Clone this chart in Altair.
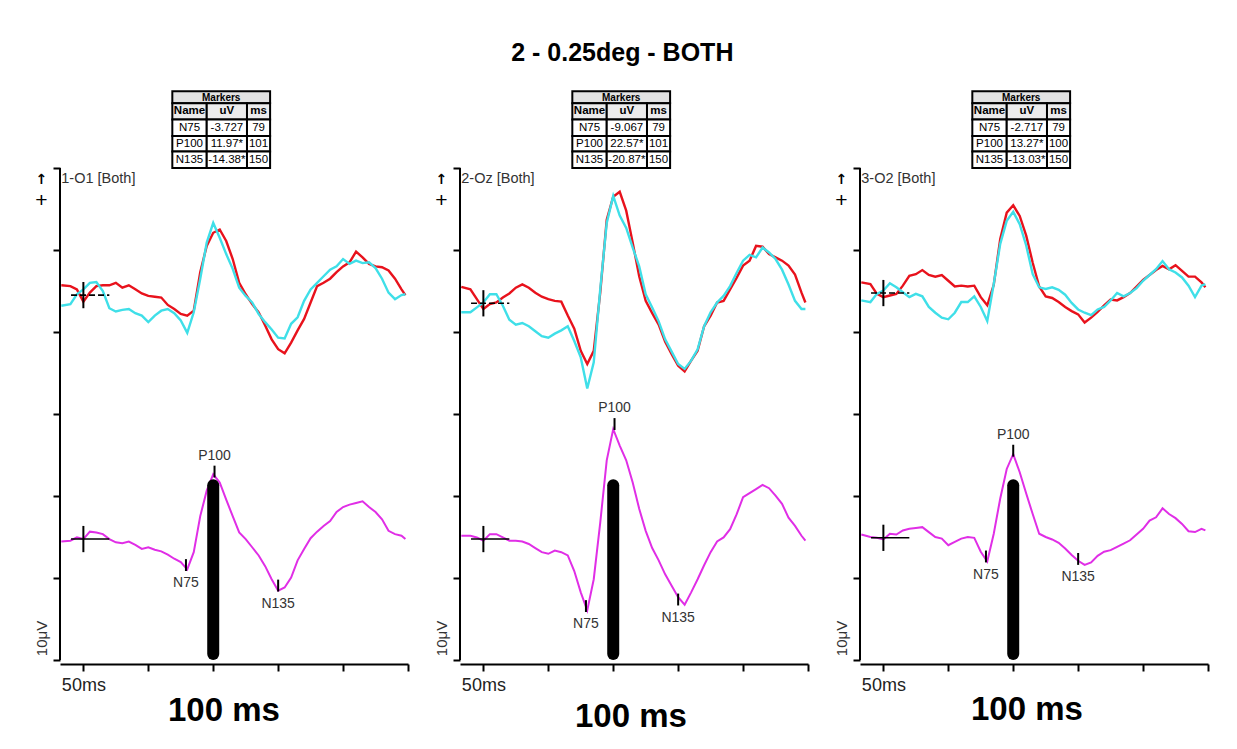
import altair as alt
import pandas as pd

# ---------------- content ----------------
TITLE = "2 - 0.25deg - BOTH"
PANEL_LABELS = ["1-O1 [Both]", "2-Oz [Both]", "3-O2 [Both]"]

T_MS = [-17, -10, -5, 0, 5, 10, 15, 20, 25, 30, 35, 40, 45, 50, 55, 60, 65, 70, 75, 80,
        85, 90, 95, 100, 105, 110, 115, 120, 125, 130, 135, 140, 145, 150, 155, 160, 165,
        170, 175, 180, 185, 190, 195, 200, 205, 210, 215, 220, 225, 230, 235, 240, 245, 248]

# traces in microvolts relative to each trace's own baseline
RED = [
    [1.2, 1.1, 0.7, -0.8, 0.3, 1.1, 1.2, 1.2, 1.5, 0.9, 1.2, 0.7, 0.2, -0.1, -0.2, -0.3, -1.2, -1.7, -2.3, -2.5,
     -1.9, 2.8, 6.0, 7.6, 8.0, 6.6, 4.4, 1.5, 0.1, -1.1, -2.1, -3.7, -5.4, -6.6, -7.1, -5.8, -4.3,
     -2.9, -0.9, 1.1, 1.5, 2.0, 2.8, 3.5, 4.0, 5.3, 4.6, 3.8, 3.5, 3.4, 3.0, 2.0, 0.7, 0.0],
    [2.0, 1.7, 0.5, -0.7, -0.1, 0.1, 0.7, 1.2, 1.9, 2.3, 1.9, 1.3, 0.8, 0.5, 0.3, 0.2, -1.5, -3.1, -5.8, -7.4,
     -5.8, 1.3, 10.2, 13.0, 13.6, 11.3, 7.4, 3.3, 0.3, -1.2, -2.6, -4.7, -6.2, -7.6, -8.3, -7.0, -5.8,
     -2.8, -1.5, 0.1, 0.3, 1.7, 3.1, 4.6, 5.2, 7.0, 6.9, 6.0, 5.6, 5.2, 4.6, 3.5, 1.3, 0.1],
    [1.3, 1.1, -0.1, -0.5, -0.3, -0.1, 0.9, 2.1, 2.3, 2.8, 2.2, 2.0, 2.2, 1.5, 0.8, 0.9, 0.8, 0.9, -0.5, -1.5,
     1.0, 6.6, 9.8, 10.7, 9.4, 7.0, 3.7, 0.8, -0.4, -0.6, -1.1, -1.7, -2.2, -2.6, -3.6, -3.0, -2.3,
     -1.5, -0.8, -0.9, -0.5, 0.0, 0.8, 1.6, 2.2, 2.8, 3.3, 2.9, 3.4, 2.7, 2.0, 2.0, 1.3, 0.7],
]
CYAN = [
    [-1.3, -1.1, 0.1, 0.7, 1.5, 1.6, 0.5, -1.6, -2.0, -1.8, -1.7, -2.2, -2.5, -3.3, -2.5, -1.9, -1.7, -2.2, -3.1, -4.6,
     -2.1, 2.0, 6.4, 8.8, 7.0, 5.0, 3.2, 0.9, -0.1, -0.9, -2.3, -3.3, -4.2, -5.2, -5.3, -3.5, -2.7,
     -0.7, 0.7, 1.5, 2.3, 3.1, 3.5, 4.4, 3.8, 4.2, 3.9, 4.0, 3.3, 2.0, 0.3, -0.5, 0.0, 0.1],
    [-1.1, -1.1, -0.5, 0.1, 1.1, 1.1, -0.3, -2.0, -2.6, -2.4, -2.8, -3.4, -4.0, -4.2, -3.7, -3.3, -2.8, -4.6, -6.6, -10.4,
     -7.2, 1.7, 9.8, 13.1, 10.7, 9.2, 6.8, 4.5, 1.1, -0.5, -2.2, -4.4, -5.9, -7.4, -8.0, -7.0, -5.6,
     -2.8, -1.1, 0.1, 0.9, 2.1, 3.7, 5.2, 5.9, 5.6, 6.8, 6.2, 5.4, 4.1, 2.3, 0.3, -0.7, -0.7],
    [-0.9, -1.1, -0.1, 0.3, 1.2, 0.7, 0.1, -0.5, -0.1, -0.4, -1.7, -2.4, -3.0, -3.2, -2.4, -1.1, -1.1, -0.4, -1.7, -3.4,
     1.1, 6.0, 8.8, 9.9, 8.4, 5.8, 2.3, 0.7, 0.5, 0.7, 0.4, -0.2, -1.2, -2.0, -2.4, -2.7, -2.0,
     -1.7, -0.9, 0.0, -0.4, 0.0, 0.6, 1.5, 2.2, 2.9, 3.9, 2.9, 2.5, 1.9, 0.9, -0.5, 0.9, 1.1],
]
MAGENTA = [
    [-0.3, -0.2, 0.2, 0.0, 0.9, 0.8, 0.6, 0.0, -0.4, -0.5, -0.3, -0.7, -1.2, -1.0, -1.3, -1.5, -1.9, -2.4, -2.8, -3.7,
     -1.6, 2.8, 5.9, 7.9, 6.9, 4.8, 2.8, 0.8, 0.0, -1.0, -2.0, -3.3, -4.9, -6.3, -5.9, -4.7, -2.6,
     -1.2, 0.1, 0.9, 1.6, 2.2, 3.3, 3.9, 4.2, 4.4, 4.6, 3.9, 3.3, 2.4, 1.0, 0.6, 0.4, 0.0],
    [0.4, 0.4, 0.2, -0.2, 0.6, 0.6, 0.2, -0.2, -0.2, -0.3, -0.6, -1.1, -1.6, -1.8, -1.4, -1.6, -2.0, -3.9, -6.5, -8.7,
     -4.9, 2.0, 9.6, 13.4, 11.4, 9.6, 6.9, 3.7, 1.0, -1.1, -2.6, -4.3, -5.7, -7.1, -8.0, -6.5, -4.9,
     -3.2, -1.6, -0.3, 0.2, 1.2, 3.0, 5.1, 5.6, 6.1, 6.6, 6.2, 5.3, 4.3, 2.6, 1.6, 0.4, -0.2],
    [0.4, 0.1, 0.0, -0.2, 0.5, 0.4, 0.9, 1.1, 1.2, 1.3, 0.7, 0.1, -0.1, -0.9, -0.5, -0.1, 0.1, 0.0, -1.7, -2.9,
     0.5, 4.8, 8.4, 10.2, 8.0, 5.4, 2.9, 0.5, 0.1, -0.2, -0.6, -1.3, -2.1, -2.8, -3.3, -3.0, -2.2,
     -1.7, -1.5, -1.1, -0.7, -0.3, 0.4, 1.1, 2.1, 2.5, 3.6, 2.9, 2.4, 1.7, 0.8, 0.7, 1.1, 0.9],
]

MARKER_NAMES = ["N75", "P100", "N135"]
MARKER_UV = [["-3.727", "11.97*", "-14.38*"],
             ["-9.067", "22.57*", "-20.87*"],
             ["-2.717", "13.27*", "-13.03*"]]
MARKER_MS = [[79, 101, 150], [79, 101, 150], [79, 100, 150]]
MARKER_LEVEL = [[-3.8, 7.6, -6.3], [-8.8, 13.4, -8.0], [-2.9, 10.0, -3.2]]
TABLE_HEAD = ["Name", "uV", "ms"]

X_TICKS = [0, 50, 100, 150, 200, 250]
Y_TICKS = [0, 10, 20, 30, 40, 50, 60]
X_SCALE_LABEL = "50ms"
Y_SCALE_LABEL = "10μV"
TIME_LABEL = "100 ms"
TIME_BAR_MS = 100

# ---------------- layout / style ----------------
FONT = "Liberation Sans"
C_RED, C_CYAN, C_MAG = "#e8121c", "#3fdfe8", "#e02ee6"
TOP_BASE = [44.5, 43.5, 44.75]
BOT_BASE = [14.75, 14.75, 14.9]
X_DOMAIN = [-18, 250]
Y_DOMAIN = [0, 70]
TAB_X = [68.5, 95, 126, 143.8]
TAB_Y = [69.35, 67.9, 65.9, 63.9, 62.0, 60.0]
TITLE_X = [163.4, 170.4, 166.4]
TITLE_Y = [56, 62, 55]

xs = alt.Scale(domain=X_DOMAIN, nice=False, zero=False)
ys = alt.Scale(domain=Y_DOMAIN, nice=False, zero=False)


def panel(i):
    x_axis = alt.Axis(values=X_TICKS, grid=False, domainColor="black", domainWidth=2,
                      tickColor="black", tickWidth=2, tickSize=7, offset=4,
                      labelExpr=f"datum.value == 0 ? '{X_SCALE_LABEL}' : ''",
                      labelFont=FONT, labelFontSize=18, labelColor="#222", labelPadding=5,
                      labelFlush=False, title=TIME_LABEL, titleFont=FONT, titleFontSize=33,
                      titleFontWeight="bold", titleColor="black", titleX=TITLE_X[i],
                      titleY=TITLE_Y[i], titleAlign="center", titleBaseline="alphabetic")
    y_axis = alt.Axis(values=Y_TICKS, grid=False, domain=False, tickColor="black",
                      tickWidth=2, tickSize=7, labels=False, title=Y_SCALE_LABEL,
                      titleFont=FONT, titleFontSize=15, titleFontWeight="normal",
                      titleColor="#333", titleAngle=270, titleX=-18.6, titleY=552,
                      titleAlign="center", titleBaseline="middle")

    def X(f):
        return alt.X(f, type="quantitative", scale=xs, axis=x_axis)

    def Y(f):
        return alt.Y(f, type="quantitative", scale=ys, axis=y_axis)

    def tdf(arr, base):
        return pd.DataFrame({"t": T_MS, "v": [a + base for a in arr]})

    red = alt.Chart(tdf(RED[i], TOP_BASE[i])).mark_line(color=C_RED, strokeWidth=2.4).encode(
        x=X("t"), y=Y("v"))
    cyan = alt.Chart(tdf(CYAN[i], TOP_BASE[i])).mark_line(color=C_CYAN, strokeWidth=2.4).encode(
        x=X("t"), y=Y("v"))
    mag = alt.Chart(tdf(MAGENTA[i], BOT_BASE[i])).mark_line(color=C_MAG, strokeWidth=2).encode(
        x=X("t"), y=Y("v"))

    yline = alt.Chart(pd.DataFrame({"t": [X_DOMAIN[0]], "v": [Y_TICKS[0]], "v2": [Y_TICKS[-1]]})
                      ).mark_rule(color="black", strokeWidth=2).encode(
        x=X("t"), y=Y("v"), y2="v2")

    bases = [TOP_BASE[i], BOT_BASE[i]]
    ch_top = alt.Chart(pd.DataFrame({"t": [-9.5], "t2": [20], "v": [bases[0]]})).mark_rule(
        color="black", strokeWidth=1.6, strokeDash=[6, 3]).encode(x=X("t"), x2="t2", y=Y("v"))
    ch_bot = alt.Chart(pd.DataFrame({"t": [-9.5], "t2": [20], "v": [bases[1]]})).mark_rule(
        color="black", strokeWidth=1.6).encode(x=X("t"), x2="t2", y=Y("v"))
    cv = alt.Chart(pd.DataFrame({"t": [0, 0], "v": [b - 1.6 for b in bases],
                                 "v2": [b + 1.6 for b in bases]})).mark_rule(
        color="black", strokeWidth=2).encode(x=X("t"), y=Y("v"), y2="v2")

    lev = [l + BOT_BASE[i] for l in MARKER_LEVEL[i]]
    mk = pd.DataFrame({"t": MARKER_MS[i], "v": [l - 0.1 for l in lev], "v2": [l + 1.35 for l in lev],
                       "lv": lev, "name": MARKER_NAMES})
    mticks = alt.Chart(mk).mark_rule(color="black", strokeWidth=2).encode(
        x=X("t"), y=Y("v"), y2="v2")
    mk_pos = mk[mk["name"].str.startswith("P")]
    mk_neg = mk[mk["name"].str.startswith("N")]
    lab_pos = alt.Chart(mk_pos).mark_text(font=FONT, fontSize=14, color="#333", dy=-21,
                                          baseline="middle").encode(x=X("t"), y=Y("lv"), text="name")
    lab_neg = alt.Chart(mk_neg).mark_text(font=FONT, fontSize=14, color="#333", dy=13,
                                          baseline="middle").encode(x=X("t"), y=Y("lv"), text="name")

    bar = alt.Chart(pd.DataFrame({"t": [TIME_BAR_MS], "v": [0.73], "v2": [21.3]})).mark_rule(
        color="black", strokeWidth=12, strokeCap="round").encode(x=X("t"), y=Y("v"), y2="v2")

    # marker table
    cells, texts_b, texts_n = [], [], []
    cells.append({"t": TAB_X[0], "t2": TAB_X[3], "v": TAB_Y[1], "v2": TAB_Y[0], "fill": "#e2e2e2"})
    texts_b.append({"t": (TAB_X[0] + TAB_X[3]) / 2, "v": (TAB_Y[0] + TAB_Y[1]) / 2 - 0.1,
                    "text": "Markers", "size": 10})
    for c in range(3):
        cx = (TAB_X[c] + TAB_X[c + 1]) / 2
        cells.append({"t": TAB_X[c], "t2": TAB_X[c + 1], "v": TAB_Y[2], "v2": TAB_Y[1], "fill": "#ececec"})
        texts_b.append({"t": cx, "v": (TAB_Y[1] + TAB_Y[2]) / 2, "text": TABLE_HEAD[c], "size": 11.5})
        for r in range(3):
            cells.append({"t": TAB_X[c], "t2": TAB_X[c + 1], "v": TAB_Y[r + 3], "v2": TAB_Y[r + 2],
                          "fill": "white"})
            val = [MARKER_NAMES[r], MARKER_UV[i][r], str(MARKER_MS[i][r])][c]
            texts_n.append({"t": cx, "v": (TAB_Y[r + 2] + TAB_Y[r + 3]) / 2, "text": val, "size": 11.5})
    tab = alt.Chart(pd.DataFrame(cells)).mark_rect(stroke="black", strokeWidth=2).encode(
        x=X("t"), x2="t2", y=Y("v"), y2="v2", color=alt.Color("fill:N", scale=None))
    tb = alt.Chart(pd.DataFrame(texts_b)).mark_text(font=FONT, fontWeight="bold", color="black",
                                                    baseline="middle").encode(
        x=X("t"), y=Y("v"), text="text", size=alt.Size("size:Q", scale=None))
    tn = alt.Chart(pd.DataFrame(texts_n)).mark_text(font=FONT, color="black",
                                                    baseline="middle").encode(
        x=X("t"), y=Y("v"), text="text", size=alt.Size("size:Q", scale=None))

    plabel = alt.Chart(pd.DataFrame({"t": [-17], "v": [58.66], "text": [PANEL_LABELS[i]]})).mark_text(
        font=FONT, fontSize=14.5, color="#333", align="left", baseline="middle").encode(
        x=X("t"), y=Y("v"), text="text")
    arrow = alt.Chart(pd.DataFrame({"t": [-32.3], "v": [58.5], "text": ["↑"]})).mark_text(
        font="DejaVu Sans", fontSize=14, fontWeight="bold", color="black", baseline="middle").encode(
        x=X("t"), y=Y("v"), text="text")
    plus = alt.Chart(pd.DataFrame({"t": [-32.3], "v": [56.0], "text": ["+"]})).mark_text(
        font=FONT, fontSize=21, color="black", baseline="middle").encode(
        x=X("t"), y=Y("v"), text="text")

    return alt.layer(red, cyan, mag, yline, ch_top, ch_bot, cv, mticks, lab_pos, lab_neg, bar,
                     tab, tb, tn, plabel, arrow, plus).properties(width=348, height=574)


chart = alt.hconcat(
    *[panel(i) for i in range(3)], spacing=52, bounds="flush",
    title=alt.TitleParams(TITLE, fontSize=25, font=FONT, fontWeight="bold", anchor="middle",
                          offset=20, color="black"),
).properties(
    padding={"left": 26, "top": 33, "right": 5, "bottom": 5}, background="white"
).configure_view(stroke=None, strokeWidth=0)

chart.save("out.html", embed_options={"renderer": "svg", "actions": False})
